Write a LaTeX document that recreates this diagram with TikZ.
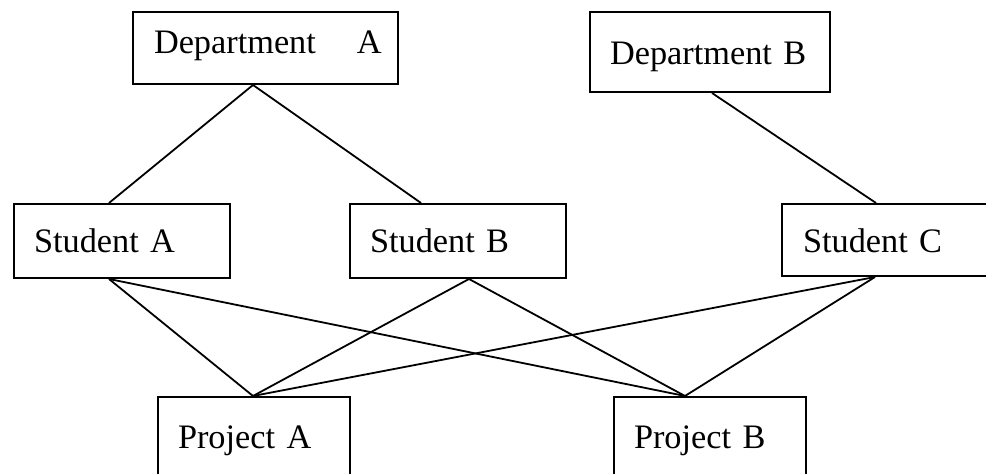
\documentclass[tikz,border=0pt]{standalone}
\usepackage{fontspec}
\setmainfont{Liberation Serif}
\begin{document}
\begin{tikzpicture}[
  x=0.5pt, y=-0.5pt,
  box/.style={draw, line width=1pt, rectangle, anchor=north west,
    inner sep=0pt, align=left, font=\fontsize{17.15}{20}\selectfont},
  link/.style={line width=0.9pt}
]
\useasboundingbox (0,0) rectangle (986,474);
\clip (0,0) rectangle (986,474);

% departments
\node[box, text width=132.5pt, text height=21pt, text depth=15pt]
  (deptA) at (132,11) {\hspace*{10.5pt}Department\hspace{20.5pt}A};
\node[box, text width=120pt, text height=26.5pt, text depth=13.5pt]
  (deptB) at (589,11) {\hspace*{10pt}Department B};

% students
\node[box, text width=108pt, text height=24.5pt, text depth=12.5pt]
  (stuA) at (13,203) {\hspace*{10pt}Student A};
\node[box, text width=108pt, text height=24.5pt, text depth=12.5pt]
  (stuB) at (349,203) {\hspace*{10pt}Student B};
\node[box, text width=108pt, text height=24.5pt, text depth=11.5pt]
  (stuC) at (781,203) {\hspace*{10.5pt}Student C};

% projects
\node[box, text width=96pt, text height=26pt, text depth=26pt]
  (projA) at (157,396) {\hspace*{10pt}Project A};
\node[box, text width=96pt, text height=26pt, text depth=26pt]
  (projB) at (613,396) {\hspace*{10pt}Project B};

% attachment points on the box edges
\coordinate (dA-s) at ([xshift=60.5pt]deptA.south west);
\coordinate (dB-s) at ([xshift=61.5pt]deptB.south west);
\coordinate (sA-n) at ([xshift=48pt]stuA.north west);
\coordinate (sA-s) at ([xshift=48pt]stuA.south west);
\coordinate (sB-n) at ([xshift=36pt]stuB.north west);
\coordinate (sB-s) at ([xshift=60pt]stuB.south west);
\coordinate (sC-n) at ([xshift=47.5pt]stuC.north west);
\coordinate (sC-s) at ([xshift=47pt]stuC.south west);
\coordinate (pA-n) at ([xshift=48pt]projA.north west);
\coordinate (pB-n) at ([xshift=36pt]projB.north west);

% connectors
\draw[link] (dA-s) -- (sA-n);
\draw[link] (dA-s) -- (sB-n);
\draw[link] (dB-s) -- (sC-n);
\draw[link] (sA-s) -- (pA-n);
\draw[link] (sA-s) -- (pB-n);
\draw[link] (sB-s) -- (pA-n);
\draw[link] (sB-s) -- (pB-n);
\draw[link] (sC-s) -- (pA-n);
\draw[link] (sC-s) -- (pB-n);
\end{tikzpicture}
\end{document}
